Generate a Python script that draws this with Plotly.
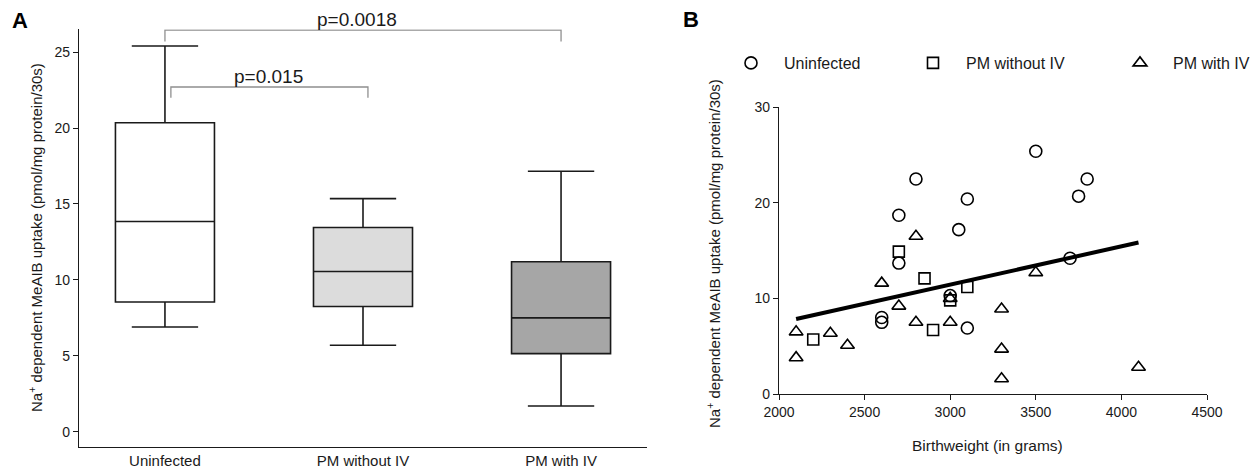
import plotly.graph_objects as go

# ---------------- Panel A data (box summary statistics) ----------------
groups = ["Uninfected", "PM without IV", "PM with IV"]
q1 = [8.55, 8.25, 5.15]
median = [13.85, 10.55, 7.5]
q3 = [20.35, 13.45, 11.2]
lower_whisker = [6.9, 5.7, 1.7]
upper_whisker = [25.4, 15.35, 17.15]
box_fill = ["#ffffff", "#dcdcdc", "#a6a6a6"]

p_labels = ["p=0.0018", "p=0.015"]

# ---------------- Panel B data (scatter) ----------------
uninf_bw = [2600, 2600, 2700, 2700, 2800, 3000, 3050, 3100, 3100, 3500, 3700, 3750, 3800]
uninf_val = [8.0, 7.5, 18.7, 13.7, 22.5, 10.3, 17.2, 20.4, 6.9, 25.4, 14.2, 20.7, 22.5]

pm_noiv_bw = [2200, 2700, 2850, 2900, 3000, 3100]
pm_noiv_val = [5.7, 14.9, 12.1, 6.7, 9.8, 11.2]

pm_iv_bw = [2100, 2100, 2300, 2400, 2600, 2700, 2800, 2800, 3000, 3000, 3300, 3300, 3300, 3500, 4100]
pm_iv_val = [6.5, 3.8, 6.35, 5.1, 11.6, 9.2, 16.5, 7.5, 7.5, 10.0, 8.9, 4.7, 1.6, 12.7, 2.8]

fit_bw = [2100, 4100]
fit_val = [7.85, 15.85]

# ---------------- figure ----------------
PAGE_OFF = 8          # default body margin of the html page
W, H = 1258 - PAGE_OFF, 468 - PAGE_OFF
FONT = "Liberation Sans, Arial, Helvetica, sans-serif"
INK = "#1a1a1a"

def px_x(p):
    return (p - PAGE_OFF) / W

def px_y(p):
    return 1 - (p - PAGE_OFF) / H

fig = go.Figure()

for i, g in enumerate(groups):
    fig.add_trace(go.Box(
        x=[g], q1=[q1[i]], median=[median[i]], q3=[q3[i]],
        lowerfence=[lower_whisker[i]], upperfence=[upper_whisker[i]],
        fillcolor=box_fill[i], line=dict(color=INK, width=1.6),
        width=0.5, whiskerwidth=0.67, boxpoints=False,
        showlegend=False, hoverinfo="skip",
        xaxis="x", yaxis="y",
    ))

marker_line = dict(color="#000000", width=1.6)
fig.add_trace(go.Scatter(
    x=uninf_bw, y=uninf_val, mode="markers", name="Uninfected",
    marker=dict(symbol="circle-open", size=12, color="#000000", line=marker_line),
    xaxis="x2", yaxis="y2", legend="legend", cliponaxis=False,
))
fig.add_trace(go.Scatter(
    x=pm_noiv_bw, y=pm_noiv_val, mode="markers", name="PM without IV",
    marker=dict(symbol="square-open", size=11, color="#000000", line=marker_line),
    xaxis="x2", yaxis="y2", legend="legend2", cliponaxis=False,
))
fig.add_trace(go.Scatter(
    x=pm_iv_bw, y=pm_iv_val, mode="markers", name="PM with IV",
    marker=dict(symbol="triangle-up-open", size=12, color="#000000", line=marker_line),
    xaxis="x2", yaxis="y2", legend="legend3", cliponaxis=False,
))
fig.add_trace(go.Scatter(
    x=fit_bw, y=fit_val, mode="lines", line=dict(color="#000000", width=4),
    showlegend=False, xaxis="x2", yaxis="y2", hoverinfo="skip",
))

# significance brackets (panel A)
bracket_specs = [
    # (x_left, x_right, y_level, y_foot, label_x, label)
    (0.0, 2.0, 26.45, 25.7, 0.97, p_labels[0]),
    (0.03, 1.025, 22.7, 22.0, 0.525, p_labels[1]),
]
shapes = []
annotations = []
for xl, xr, yl, yf, lx, lab in bracket_specs:
    shapes.append(dict(type="path", xref="x", yref="y",
                       path=f"M {xl},{yf} L {xl},{yl} L {xr},{yl} L {xr},{yf}",
                       line=dict(color="#8f8f8f", width=1.3)))
    annotations.append(dict(x=lx, y=yl, xref="x", yref="y", text=lab,
                            showarrow=False, yanchor="bottom", xanchor="center",
                            yshift=-2, font=dict(size=19, color=INK, family=FONT)))

ytitle = "Na<sup>+</sup> dependent MeAIB uptake (pmol/mg protein/30s)"
annotations += [
    dict(x=px_x(35), y=px_y(238), xref="paper", yref="paper", text=ytitle,
         textangle=-90, showarrow=False, xanchor="center", yanchor="middle",
         font=dict(size=15, color=INK, family=FONT)),
    dict(x=px_x(713), y=px_y(253), xref="paper", yref="paper", text=ytitle,
         textangle=-90, showarrow=False, xanchor="center", yanchor="middle",
         font=dict(size=15, color=INK, family=FONT)),
    dict(x=px_x(987), y=px_y(445), xref="paper", yref="paper",
         text="Birthweight (in grams)", showarrow=False,
         xanchor="center", yanchor="middle",
         font=dict(size=15.5, color=INK, family=FONT)),
    dict(x=px_x(10), y=px_y(21), xref="paper", yref="paper", text="<b>A</b>",
         showarrow=False, xanchor="left", yanchor="middle",
         font=dict(size=22, color="#000000", family=FONT)),
    dict(x=px_x(681), y=px_y(20), xref="paper", yref="paper", text="<b>B</b>",
         showarrow=False, xanchor="left", yanchor="middle",
         font=dict(size=22, color="#000000", family=FONT)),
]

axis_common = dict(showline=True, linecolor=INK, linewidth=1.3, showgrid=False,
                   zeroline=False, tickfont=dict(size=14, color=INK, family=FONT),
                   tickcolor=INK, ticklen=5, tickwidth=1.2, automargin=False)

legend_common = dict(orientation="h", yanchor="middle", xanchor="left",
                     bgcolor="rgba(0,0,0,0)", itemwidth=56,
                     font=dict(size=16, color=INK, family=FONT))

fig.update_layout(
    width=W, height=H,
    margin=dict(l=0, r=0, t=0, b=0, autoexpand=False),
    paper_bgcolor="white", plot_bgcolor="white",
    font=dict(family=FONT, color=INK),
    xaxis=dict(domain=[px_x(79), px_x(647)], type="category", range=[-0.434, 2.434],
               anchor="y", ticks="", **{k: v for k, v in axis_common.items() if k not in ("tickfont",)},
               tickfont=dict(size=15, color=INK, family=FONT)),
    yaxis=dict(domain=[px_y(447), px_y(29.3)], range=[-1, 26.5], anchor="x",
               tickvals=[0, 5, 10, 15, 20, 25], ticks="outside", **axis_common),
    xaxis2=dict(domain=[px_x(779), px_x(1207)], range=[2000, 4500], anchor="y2",
                tickvals=[2000, 2500, 3000, 3500, 4000, 4500], ticks="outside",
                **axis_common),
    yaxis2=dict(domain=[px_y(394), px_y(107.3)], range=[0, 30], anchor="x2",
                tickvals=[0, 10, 20, 30], ticks="outside", **axis_common),
    legend=dict(x=px_x(749 - 31), y=px_y(63), **legend_common),
    legend2=dict(x=px_x(931 - 31), y=px_y(63), **legend_common),
    legend3=dict(x=px_x(1138 - 31), y=px_y(63), **legend_common),
    shapes=shapes,
    annotations=annotations,
    showlegend=True,
)

fig.write_html("out.html")
